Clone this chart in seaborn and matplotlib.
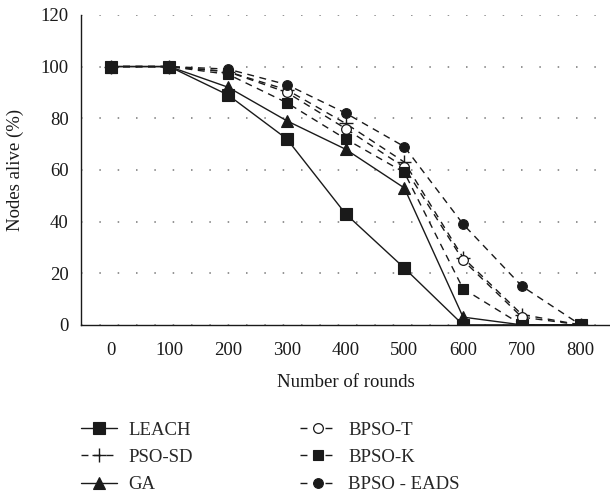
import matplotlib
matplotlib.use("Agg")
import matplotlib.pyplot as plt
import seaborn as sns
import pandas as pd

rounds = [0, 100, 200, 300, 400, 500, 600, 700, 800]
leach = [100, 100, 89, 72, 43, 22, 0, 0, 0]
pso_sd = [100, 100, 98, 91, 78, 63, 26, 4, 0]
ga = [100, 100, 92, 79, 68, 53, 3, 0, 0]
bpso_t = [100, 100, 98, 90, 76, 61, 25, 3, 0]
bpso_k = [100, 100, 97, 86, 72, 59, 14, 0, 0]
bpso_eads = [100, 100, 99, 93, 82, 69, 39, 15, 0]
series_names = ["LEACH", "PSO-SD", "GA", "BPSO-T", "BPSO-K", "BPSO - EADS"]
series_values = [leach, pso_sd, ga, bpso_t, bpso_k, bpso_eads]
y_ticks = [0, 20, 40, 60, 80, 100, 120]

sns.set_style("white")
plt.rcParams["font.family"] = ["Liberation Serif", "DejaVu Serif"]

styles = {
    "LEACH": dict(marker="s", linestyle="-", ms=8, mfc="#1a1a1a"),
    "PSO-SD": dict(marker="+", linestyle=(0, (5, 4)), ms=10, mew=1.0),
    "GA": dict(marker="^", linestyle="-", ms=8, mfc="#1a1a1a"),
    "BPSO-T": dict(marker="o", linestyle=(0, (5, 4)), ms=7, mfc="white", mew=0.9),
    "BPSO-K": dict(marker="s", linestyle=(0, (5, 4)), ms=7, mfc="#1a1a1a"),
    "BPSO - EADS": dict(marker="o", linestyle=(0, (5, 4)), ms=7, mfc="#1a1a1a"),
}

fig = plt.figure(figsize=(6.1, 4.96), dpi=100)
ax = fig.add_axes([0.133, 0.345, 0.867, 0.625])

handles = []
for name, vals in zip(series_names, series_values):
    df = pd.DataFrame({"rounds": rounds, "alive": vals})
    st = styles[name]
    sns.lineplot(data=df, x="rounds", y="alive", ax=ax, color="#1a1a1a",
                 linewidth=1.0, marker=st["marker"], linestyle=st["linestyle"],
                 markersize=st["ms"], markerfacecolor=st.get("mfc", "#1a1a1a"),
                 markeredgecolor="#1a1a1a", markeredgewidth=st.get("mew", 0.8),
                 label=name, legend=False)
    handles.append(ax.lines[-1])

ax.set_xlim(-50, 850)
ax.set_ylim(0, 120)
ax.set_xticks(rounds)
ax.set_xticklabels([str(r) for r in rounds])
ax.set_yticks(y_ticks)
ax.tick_params(axis="x", length=0, labelsize=13.5, colors="#1a1a1a", pad=12)
ax.tick_params(axis="y", length=0, labelsize=13.5, colors="#1a1a1a", pad=9)
ax.yaxis.grid(True, linestyle=(0, (1, 11)), color="#777777", linewidth=1.1)
ax.xaxis.grid(False)
for s in ["top", "right"]:
    ax.spines[s].set_visible(False)
for s in ["left", "bottom"]:
    ax.spines[s].set_color("#1a1a1a")
    ax.spines[s].set_linewidth(1.0)
ax.set_xlabel("Number of rounds", fontsize=13.5, color="#1a1a1a", labelpad=11)
ax.set_ylabel("Nodes alive (%)", fontsize=13.5, color="#1a1a1a", labelpad=12)

fig.legend(handles, series_names, ncol=2,
           loc="upper left", bbox_to_anchor=(0.12, 0.165), frameon=False,
           fontsize=13.5, handlelength=1.92, labelspacing=0.54,
           columnspacing=5.7, handletextpad=0.64, borderaxespad=0)

fig.savefig("out.png", dpi=100)
